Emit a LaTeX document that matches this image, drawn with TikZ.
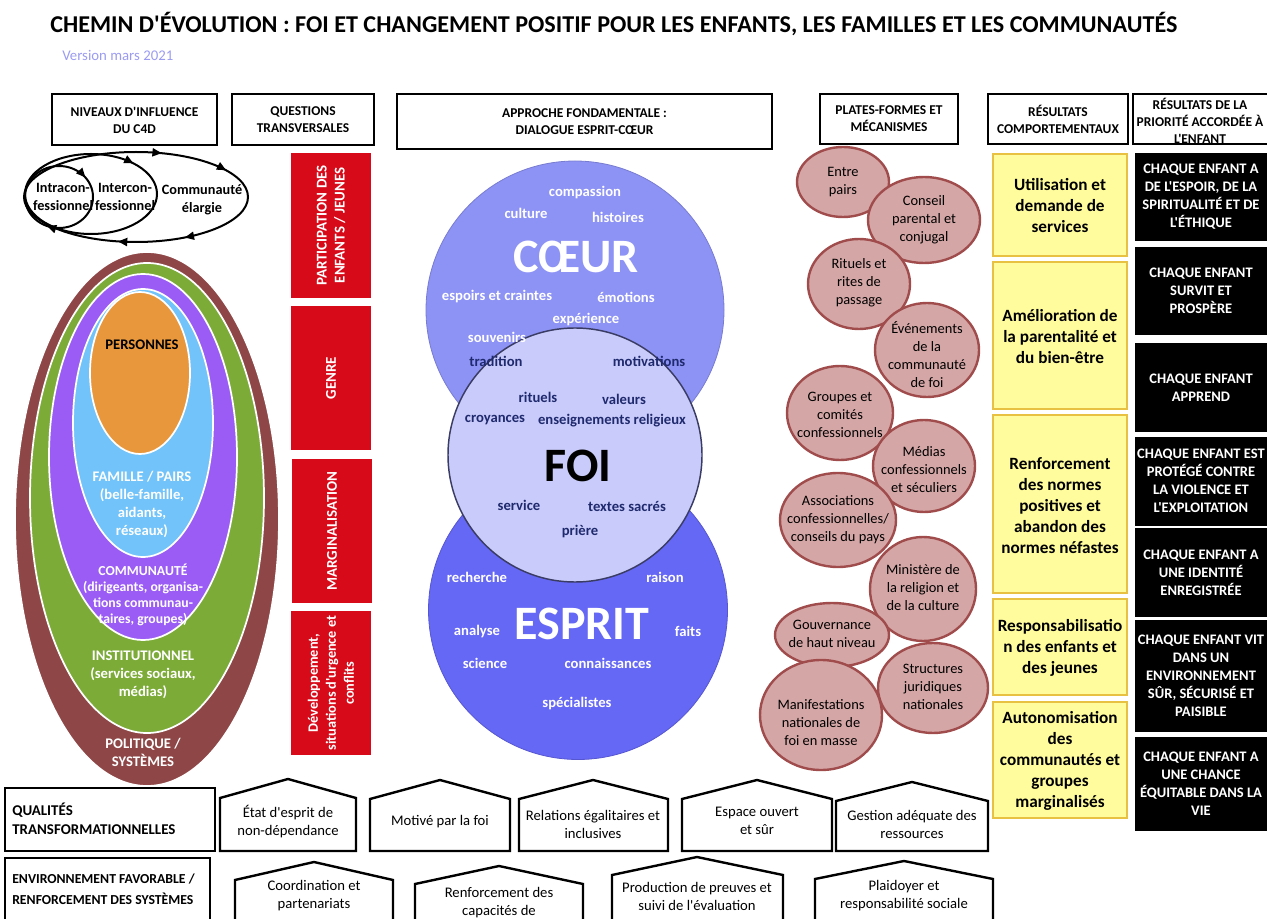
\documentclass[tikz,border=0pt]{standalone}
\usepackage{fontspec}
\setmainfont{Carlito}[Ligatures=TeXOff]
\usetikzlibrary{arrows.meta,decorations.markings}

\definecolor{versioncol}{RGB}{155,155,242}
\definecolor{brownring}{RGB}{142,70,70}
\definecolor{greenring}{RGB}{124,171,56}
\definecolor{purplering}{RGB}{154,92,245}
\definecolor{bluering}{RGB}{113,195,249}
\definecolor{orangering}{RGB}{232,151,61}
\definecolor{redq}{RGB}{215,10,25}
\definecolor{coeurcol}{RGB}{141,146,245}
\definecolor{foicol}{RGB}{201,203,250}
\definecolor{foiline}{RGB}{58,60,100}
\definecolor{espritcol}{RGB}{101,103,245}
\definecolor{navyw}{RGB}{31,42,110}
\definecolor{platfill}{RGB}{213,166,166}
\definecolor{platline}{RGB}{160,76,76}
\definecolor{yelfill}{RGB}{255,252,158}
\definecolor{yelline}{RGB}{232,192,66}

\tikzset{
  every node/.style={inner sep=0pt, align=center},
  hdbox/.style={draw, line width=1.5pt, fill=white},
  hdtxt/.style={font=\bfseries\fontsize{10.1}{12.75}\selectfont},
  cyc/.style={line width=1.5pt, postaction={decorate}},
  cyctxt/.style={font=\bfseries\fontsize{10.7}{13.5}\selectfont},
  ring/.style={draw=white, line width=1.3pt, fill=#1},
  ringtxt/.style={text=white, font=\bfseries\fontsize{11}{13.5}\selectfont},
  redtxt/.style={text=white, rotate=90, font=\bfseries\fontsize{11.2}{13.5}\selectfont},
  wordw/.style={text=white, font=\bfseries\fontsize{11}{13}\selectfont},
  wordn/.style={text=navyw, font=\bfseries\fontsize{11}{13}\selectfont},
  bigword/.style={font=\bfseries\fontsize{36}{40}\selectfont},
  plat/.style={draw=platline, fill=platfill, line width=1.8pt},
  plattxt/.style={font=\fontsize{10.8}{13.5}\selectfont},
  yelbox/.style={draw=yelline, fill=yelfill, line width=1.8pt},
  yeltxt/.style={font=\bfseries\fontsize{12.9}{15.75}\selectfont},
  blktxt/.style={text=white, font=\bfseries\fontsize{10.9}{13.5}\selectfont},
  house/.style={draw, line width=1.8pt, fill=white},
  housetxt/.style={font=\fontsize{11}{13.5}\selectfont},
  tip/.style={decoration={markings, mark=at position #1 with {\arrow{Triangle[length=7pt,width=6pt]}}}}
}

\begin{document}
\begin{tikzpicture}[x=0.75pt, y=-0.75pt]
  \useasboundingbox (0,0) rectangle (1267,919);

  % title
  \node[anchor=west, font=\bfseries\fontsize{18.1}{21}\selectfont] (titre) at (50,24)
    {CHEMIN D'ÉVOLUTION : FOI ET CHANGEMENT POSITIF POUR LES ENFANTS, LES FAMILLES ET LES COMMUNAUTÉS};
  \node[anchor=west, text=versioncol, font=\fontsize{11.1}{13}\selectfont] (version) at (62,55) {Version mars 2021};

  % column headers
  \draw[hdbox] (52,94) rectangle (217,145);
  \node[hdtxt] (hniv) at (134.5,120) {NIVEAUX D'INFLUENCE\\DU C4D};
  \draw[hdbox] (232,94) rectangle (374,145);
  \node[hdtxt] (hquest) at (303,120) {QUESTIONS\\TRANSVERSALES};
  \draw[hdbox] (397,94) rectangle (772,149);
  \node[hdtxt] (happ) at (584.5,122) {APPROCHE FONDAMENTALE :\\DIALOGUE ESPRIT-CŒUR};
  \draw[hdbox] (820,94) rectangle (958,144);
  \node[hdtxt] (hplat) at (889,119) {PLATES-FORMES ET\\MÉCANISMES};
  \draw[hdbox] (988,94) rectangle (1128,144);
  \node[hdtxt] (hres) at (1058,119) {RÉSULTATS\\COMPORTEMENTAUX};
  \draw[hdbox] (1133,94) rectangle (1280,144);
  \node[hdtxt] (hprio) at (1200,121) {RÉSULTATS DE LA\\PRIORITÉ ACCORDÉE À\\L'ENFANT};

  % cycle of confessional levels
  \draw[cyc, tip=0.155, tip=0.285, tip=0.80, tip=0.93] (136,197) ellipse [x radius=112, y radius=45];
  \draw[cyc, tip=0.88] (91,194) ellipse [x radius=66, y radius=40];
  \draw[cyc, tip=0.31, tip=0.895] (59,197) ellipse [x radius=34, y radius=31];
  \node[cyctxt] (intra) at (63,197) {Intracon-\\fessionnel};
  \node[cyctxt] (inter) at (125,197) {Intercon-\\fessionnel};
  \node[cyctxt] (elarg) at (202,200) {Communauté\\élargie};

  % nested levels of influence
  \draw[ring=brownring] (147,519) ellipse [x radius=132, y radius=267];
  \draw[ring=greenring] (147,498) ellipse [x radius=117, y radius=235];
  \draw[ring=purplering] (143,457) ellipse [x radius=94, y radius=183];
  \draw[ring=bluering] (143,423) ellipse [x radius=70, y radius=134];
  \draw[ring=orangering] (140,373) ellipse [x radius=50, y radius=81];
  \node[ringtxt, text=black] (pers) at (142,345) {PERSONNES};
  \node[ringtxt] (fam) at (142,504) {FAMILLE / PAIRS\\(belle-famille,\\aidants,\\réseaux)};
  \node[ringtxt, font=\bfseries\fontsize{10.3}{12}\selectfont] (comm) at (143,595)
    {COMMUNAUTÉ\\(dirigeants, organisa-\\tions communau-\\taires, groupes)};
  \node[ringtxt] (inst) at (143,675) {INSTITUTIONNEL\\(services sociaux,\\médias)};
  \node[ringtxt] (poli) at (143,752) {POLITIQUE /\\SYSTÈMES};

  % cross-cutting issues
  \fill[redq] (291,153) rectangle (371,298);
  \node[redtxt] (qpart) at (331,225.5) {PARTICIPATION DES\\ENFANTS / JEUNES};
  \fill[redq] (291,306) rectangle (371,450);
  \node[redtxt] (qgenre) at (331,378) {GENRE};
  \fill[redq] (292,459) rectangle (372,603);
  \node[redtxt] (qmarg) at (332,531) {MARGINALISATION};
  \fill[redq] (291,611) rectangle (371,755);
  \node[redtxt, font=\bfseries\fontsize{10.7}{13.5}\selectfont] (qdev) at (331,683) {Développement,\\situations d'urgence et\\conflits};

  % heart / mind dialogue
  \draw[coeurcol!85!black, fill=coeurcol, line width=0.6pt] (575,310) circle [radius=149];
  \draw[espritcol!85!black, fill=espritcol, line width=0.6pt] (578,610) circle [radius=149.5];
  \draw[foiline, fill=foicol, line width=1.1pt] (575,455) circle [radius=127];
  \node[wordw] (compa) at (585,193) {compassion};
  \node[wordw] (cult) at (526,213) {culture};
  \node[wordw] (hist) at (618,217) {histoires};
  \node[bigword, text=white] (coeur) at (576,257) {CŒUR};
  \node[wordw] (espo) at (497,297) {espoirs et craintes};
  \node[wordw] (emot) at (626,297) {émotions};
  \node[wordw] (expe) at (586,320) {expérience};
  \node[wordw] (souv) at (497,337) {souvenirs};
  \node[wordn] (trad) at (496,361) {tradition};
  \node[wordn] (moti) at (649,361) {motivations};
  \node[wordn] (ritu) at (538,397) {rituels};
  \node[wordn] (vale) at (624,399) {valeurs};
  \node[wordn] (croy) at (495,420) {croyances};
  \node[wordn] (ense) at (612,421) {enseignements religieux};
  \node[bigword, text=black] (foi) at (578,466) {FOI};
  \node[wordn] (serv) at (519,505) {service};
  \node[wordn] (text) at (627,506) {textes sacrés};
  \node[wordn] (prie) at (580,532) {prière};
  \node[wordw] (rech) at (477,577) {recherche};
  \node[wordw] (rais) at (665,577) {raison};
  \node[bigword, text=white] (esprit) at (582,624) {ESPRIT};
  \node[wordw] (anal) at (477,632) {analyse};
  \node[wordw] (fait) at (688,631) {faits};
  \node[wordw] (scie) at (485,663) {science};
  \node[wordw] (conn) at (608,663) {connaissances};
  \node[wordw] (spec) at (577,704) {spécialistes};

  % platforms and mechanisms
  \draw[plat] (843,182) ellipse [x radius=46, y radius=35];
  \node[plattxt] (pentre) at (843,182) {Entre\\pairs};
  \draw[plat] (924,220) ellipse [x radius=56, y radius=43];
  \node[plattxt] (pcons) at (924,220) {Conseil\\parental et\\conjugal};
  \draw[plat] (859,284) ellipse [x radius=51, y radius=45];
  \node[plattxt] (pritu) at (859,283) {Rituels et\\rites de\\passage};
  \draw[plat] (927,350) ellipse [x radius=52, y radius=47];
  \node[plattxt] (peven) at (927,355) {Événements\\de la\\communauté\\de foi};
  \draw[plat] (840,413) ellipse [x radius=53, y radius=47];
  \node[plattxt] (pgrou) at (840,415) {Groupes et\\comités\\confessionnels};
  \draw[plat] (924,466) ellipse [x radius=51, y radius=46];
  \node[plattxt] (pmedi) at (924,470) {Médias\\confessionnels\\et séculiers};
  \draw[plat] (838,520) ellipse [x radius=58, y radius=47];
  \node[plattxt] (passo) at (838,520) {Associations\\confessionnelles/\\conseils du pays};
  \draw[plat] (923,589) ellipse [x radius=53, y radius=52];
  \node[plattxt] (pmini) at (923,588) {Ministère de\\la religion et\\de la culture};
  \draw[plat] (832,635) ellipse [x radius=57, y radius=32];
  \node[plattxt] (pgouv) at (832,634) {Gouvernance\\de haut niveau};
  \draw[plat] (933,688) ellipse [x radius=55, y radius=45];
  \node[plattxt] (pstru) at (933,687) {Structures\\juridiques\\nationales};
  \draw[plat] (821,715) ellipse [x radius=61, y radius=55];
  \node[plattxt] (pmani) at (821,723) {Manifestations\\nationales de\\foi en masse};

  % behavioural results
  \draw[yelbox] (993,154) rectangle (1127,256);
  \node[yeltxt] (ruti) at (1060,206) {Utilisation et\\demande de\\services};
  \draw[yelbox] (993,262) rectangle (1127,409);
  \node[yeltxt] (rame) at (1060,337) {Amélioration de\\la parentalité et\\du bien-être};
  \draw[yelbox] (993,415) rectangle (1127,593);
  \node[yeltxt] (rnor) at (1060,506) {Renforcement\\des normes\\positives et\\abandon des\\normes néfastes};
  \draw[yelbox] (993,599) rectangle (1127,695);
  \node[yeltxt] (rresp) at (1060,648) {Responsabilisatio\\n des enfants et\\des jeunes};
  \draw[yelbox] (993,702) rectangle (1127,818);
  \node[yeltxt] (rauto) at (1060,761) {Autonomisation\\des\\communautés et\\groupes\\marginalisés};

  % child priority results
  \fill (1135,153) rectangle (1270,241);
  \node[blktxt] (e1) at (1201,197) {CHAQUE ENFANT A\\DE L'ESPOIR, DE LA\\SPIRITUALITÉ ET DE\\L'ÉTHIQUE};
  \fill (1135,247) rectangle (1270,335);
  \node[blktxt] (e2) at (1201,291) {CHAQUE ENFANT\\SURVIT ET\\PROSPÈRE};
  \fill (1135,343) rectangle (1270,432);
  \node[blktxt] (e3) at (1201,388) {CHAQUE ENFANT\\APPREND};
  \fill (1135,437) rectangle (1270,526);
  \node[blktxt] (e4) at (1201,481) {CHAQUE ENFANT EST\\PROTÉGÉ CONTRE\\LA VIOLENCE ET\\L'EXPLOITATION};
  \fill (1135,528) rectangle (1270,617);
  \node[blktxt] (e5) at (1201,573) {CHAQUE ENFANT A\\UNE IDENTITÉ\\ENREGISTRÉE};
  \fill (1135,620) rectangle (1270,732);
  \node[blktxt] (e6) at (1201,676) {CHAQUE ENFANT VIT\\DANS UN\\ENVIRONNEMENT\\SÛR, SÉCURISÉ ET\\PAISIBLE};
  \fill (1135,737) rectangle (1270,831);
  \node[blktxt] (e7) at (1201,784) {CHAQUE ENFANT A\\UNE CHANCE\\ÉQUITABLE DANS LA\\VIE};

  % transformational qualities
  \draw[hdbox] (5,788) rectangle (215,851);
  \node[anchor=west, align=left, font=\bfseries\fontsize{11.2}{14}\selectfont] (qual) at (12,819) {QUALITÉS\\TRANSFORMATIONNELLES};
  \draw[house] (220,851) -- (220,798) -- (288,779) -- (356,798) -- (356,851) -- cycle;
  \node[housetxt] (h1) at (288,822) {État d'esprit de\\non-dépendance};
  \draw[house] (370,851) -- (370,799) -- (440,780) -- (510,799) -- (510,851) -- cycle;
  \node[housetxt] (h2) at (440,822) {Motivé par la foi};
  \draw[house] (519,851) -- (519,799) -- (593,780) -- (668,799) -- (668,851) -- cycle;
  \node[housetxt] (h3) at (593,824) {Relations égalitaires et\\inclusives};
  \draw[house] (682,851) -- (682,799) -- (757,780) -- (832,799) -- (832,851) -- cycle;
  \node[housetxt] (h4) at (757,821) {Espace ouvert\\et sûr};
  \draw[house] (836,851) -- (836,801) -- (912,782) -- (988,801) -- (988,851) -- cycle;
  \node[housetxt] (h5) at (912,824) {Gestion adéquate des\\ressources};

  % enabling environment
  \draw[hdbox] (5,858) rectangle (210,930);
  \node[anchor=west, align=left, font=\bfseries\fontsize{10.3}{15.5}\selectfont] (envi) at (12,889) {ENVIRONNEMENT FAVORABLE /\\RENFORCEMENT DES SYSTÈMES};
  \draw[house] (235,930) -- (235,880) -- (314,862) -- (393,880) -- (393,930);
  \node[housetxt] (h6) at (314,896) {Coordination et\\partenariats};
  \draw[house] (415,930) -- (415,884) -- (499,866) -- (583,884) -- (583,930);
  \node[housetxt] (h7) at (499,903) {Renforcement des\\capacités de};
  \draw[house] (612,930) -- (612,875) -- (697,857) -- (783,875) -- (783,930);
  \node[housetxt] (h8) at (697,896) {Production de preuves et\\suivi de l'évaluation};
  \draw[house] (815,930) -- (815,879) -- (904,861) -- (993,879) -- (993,930);
  \node[housetxt] (h9) at (904,896) {Plaidoyer et\\responsabilité sociale};
\end{tikzpicture}
\end{document}
